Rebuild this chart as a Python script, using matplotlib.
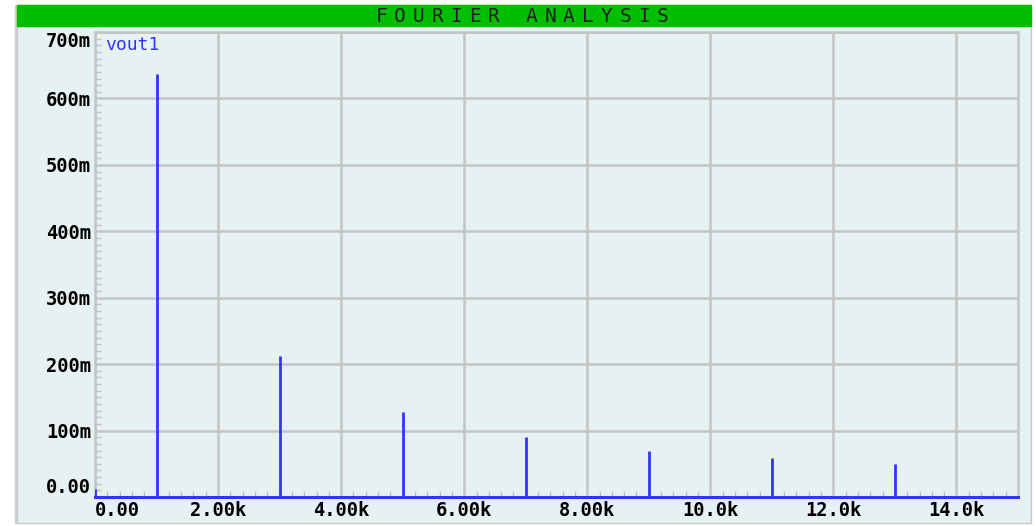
import matplotlib
matplotlib.use('Agg')
import matplotlib.pyplot as plt
from matplotlib.patches import Rectangle
from matplotlib.ticker import MultipleLocator

# harmonic spectrum (Hz, V)
freqs = [0, 1000, 3000, 5000, 7000, 9000, 11000, 13000]
amps = [0.012, 0.637, 0.212, 0.128, 0.091, 0.070, 0.058, 0.049]
trace_name = 'vout1'
title = 'FOURIER ANALYSIS'
x_ticks = [0, 2000, 4000, 6000, 8000, 10000, 12000, 14000]
x_labels = ['0.00', '2.00k', '4.00k', '6.00k', '8.00k', '10.0k', '12.0k', '14.0k']
y_ticks = [0, 0.1, 0.2, 0.3, 0.4, 0.5, 0.6, 0.7]
y_labels = ['0.00', '100m', '200m', '300m', '400m', '500m', '600m', '700m']

BG = '#e6f1f1'
GREEN = '#00bf00'
BLUE = '#3333ff'
GRID = '#c4c4c4'
W, H = 1036, 526

fig = plt.figure(figsize=(W / 100, H / 100), dpi=100)

# outer panel and title bar
fig.patches.append(Rectangle((15 / W, 1 - 523 / H), 2 / W, 518 / H,
                             transform=fig.transFigure, color='#d0d0d0', zorder=-3))
fig.patches.append(Rectangle((17 / W, 1 - 523 / H), 1014 / W, 518 / H,
                             transform=fig.transFigure, facecolor=BG,
                             edgecolor='#c8c8c8', lw=1, zorder=-3))
fig.patches.append(Rectangle((17 / W, 1 - 26 / H), 1014 / W, 21 / H,
                             transform=fig.transFigure, color=GREEN, zorder=-2))
step = 18.75
x0 = 522 - step * (len(title) - 1) / 2
for i, ch in enumerate(title):
    fig.text((x0 + i * step) / W, 1 - 16 / H, ch, ha='center', va='center',
             family='DejaVu Sans Mono', fontsize=14, color='#222222')

ax = fig.add_axes([95 / W, 1 - 497 / H, 923 / W, 465 / H])
ax.set_facecolor(BG)
ax.set_xlim(0, 15000)
ax.set_ylim(0, 0.7)

ax.plot([0, 15000], [0, 0], color=BLUE, lw=2.2, zorder=4, clip_on=False)
ax.vlines(freqs, 0, amps, color=BLUE, lw=2, zorder=4)

ax.set_xticks(x_ticks)
ax.set_xticklabels(x_labels)
ax.set_yticks(y_ticks)
ax.set_yticklabels(y_labels)
ax.xaxis.set_minor_locator(MultipleLocator(200))
ax.yaxis.set_minor_locator(MultipleLocator(0.01))
ax.grid(True, which='major', color=GRID, lw=1.8)
ax.set_axisbelow(True)
ax.tick_params(which='major', length=0, pad=3)
ax.tick_params(which='minor', direction='in', length=4, color='#c0c0c0', width=1)
for lbl in ax.get_xticklabels() + ax.get_yticklabels():
    lbl.set_family('DejaVu Sans Mono')
    lbl.set_fontweight('bold')
    lbl.set_fontsize(13.5)
ax.get_xticklabels()[0].set_ha('left')
ax.get_yticklabels()[0].set_va('bottom')
ax.get_yticklabels()[-1].set_va('top')
for s in ax.spines.values():
    s.set_color(GRID)
    s.set_linewidth(1.8)

ax.text(10 / 923, 1 - 13 / 465, trace_name, transform=ax.transAxes, color=BLUE,
        family='DejaVu Sans Mono', fontsize=13, va='center', ha='left')

fig.savefig('out.png', dpi=100)
